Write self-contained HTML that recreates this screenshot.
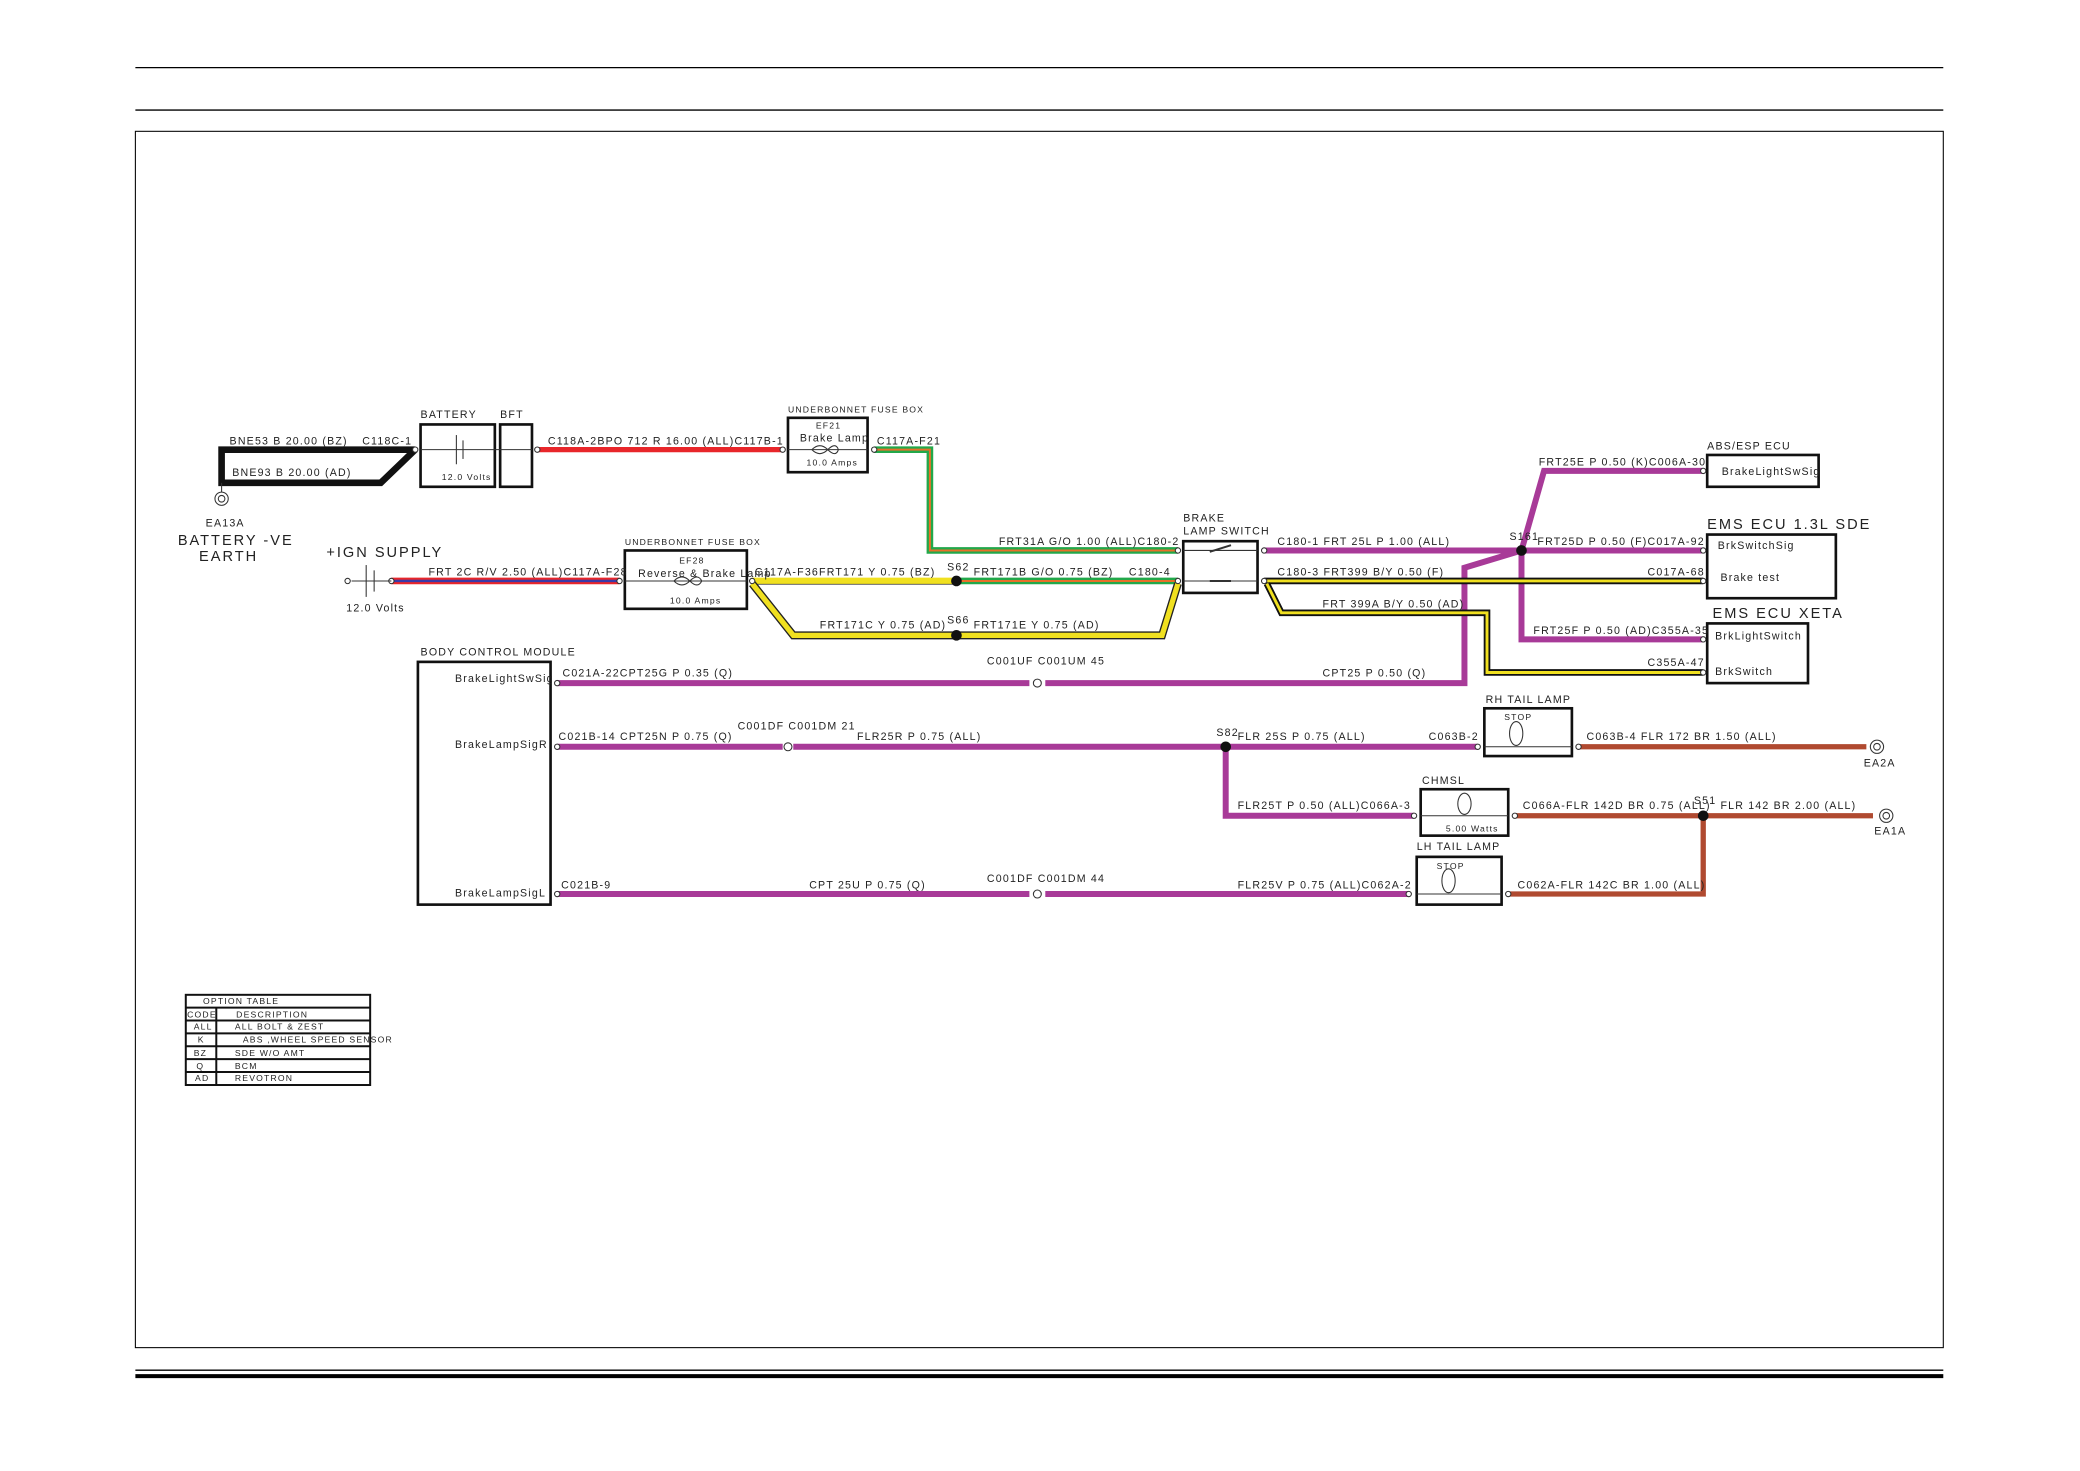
<!DOCTYPE html>
<html><head><meta charset="utf-8"><style>
html,body{margin:0;padding:0;background:#fff}
svg{display:block}
text{font-family:"Liberation Sans",sans-serif;font-size:8px;letter-spacing:0.9px;fill:#222}
.b{font-size:11px;letter-spacing:1.5px}
.s{font-size:6.5px}
</style></head><body>
<svg width="2080" height="1471" viewBox="0 0 1568 1109" xmlns="http://www.w3.org/2000/svg">
<rect width="1570" height="1110" fill="#fff"/>
<g stroke="#000" fill="none">
<line x1="102" y1="51" x2="1465" y2="51" stroke-width="1"/>
<line x1="102" y1="83" x2="1465" y2="83" stroke-width="1"/>
<rect x="102" y="99" width="1363" height="917" stroke-width="0.8"/>
<line x1="102" y1="1033" x2="1465" y2="1033" stroke-width="1"/>
<line x1="102" y1="1037.5" x2="1465" y2="1037.5" stroke-width="3"/>
</g>

<g fill="none" stroke-linejoin="miter">
<path d="M313 339 H167 V364 H287 L313 339" stroke="#111" stroke-width="5"/>
<line x1="405" y1="339" x2="590" y2="339" stroke="#e8262a" stroke-width="4"/>
<path d="M659 339 H701 V415 H888" stroke="#22a84a" stroke-width="5"/>
<path d="M659 339 H701 V415 H888" stroke="#e8702a" stroke-width="1.5"/>
<line x1="295" y1="438" x2="467" y2="438" stroke="#e8262a" stroke-width="5"/>
<line x1="295" y1="438" x2="467" y2="438" stroke="#3a3aa8" stroke-width="1.8"/>
<path d="M567 438 H721" stroke="#f0e020" stroke-width="5"/>
<path d="M567 438 H721" stroke="#333" stroke-width="0.6" transform="translate(0,2.5)"/>
<path d="M721 438 H888" stroke="#22a84a" stroke-width="5"/>
<path d="M721 438 H888" stroke="#e8702a" stroke-width="1.5"/>
<path d="M567 440 L598 479 H876 L888 440" stroke="#222" stroke-width="6"/>
<path d="M567 440 L598 479 H876 L888 440" stroke="#f0e020" stroke-width="4"/>
<g stroke="#a83a98" stroke-width="4.5">
<path d="M953 415 H1284"/>
<path d="M1147 415 L1164 355 H1284"/>
<path d="M1147 415 V482 H1284"/>
<path d="M1147 415 L1104 428 V515 H788"/>
<path d="M776 515 H420"/>
<path d="M420 563 H590 M598 563 H1114"/>
<path d="M924 563 V615 H1066"/>
<path d="M420 674 H776 M788 674 H1062"/>
</g>
<path d="M953 438 H1284" stroke="#111" stroke-width="5"/>
<path d="M953 438 H1284" stroke="#f0e020" stroke-width="2.2"/>
<path d="M955 440 L966 462 H1121 V507 H1284" stroke="#111" stroke-width="5"/>
<path d="M955 440 L966 462 H1121 V507 H1284" stroke="#f0e020" stroke-width="2.2"/>
<g stroke="#b04a30" stroke-width="4">
<path d="M1190 563 H1407"/>
<path d="M1142 615 H1412"/>
<path d="M1284 615 V674 H1137"/>
</g>
</g>
<g fill="#111">
<circle cx="721" cy="438" r="4"/><circle cx="721" cy="479" r="4"/>
<circle cx="1147" cy="415" r="4"/><circle cx="924" cy="563" r="4"/><circle cx="1284" cy="615" r="4"/>
</g>
<g fill="#fff" stroke="#333" stroke-width="0.8">
<circle cx="313" cy="339" r="2"/><circle cx="405" cy="339" r="2"/><circle cx="590" cy="339" r="2"/><circle cx="659" cy="339" r="2"/>
<circle cx="888" cy="415" r="2"/><circle cx="888" cy="438" r="2"/><circle cx="953" cy="415" r="2"/><circle cx="953" cy="438" r="2"/>
<circle cx="467" cy="438" r="2"/><circle cx="567" cy="438" r="2"/><circle cx="295" cy="438" r="2"/>
<circle cx="1284" cy="355" r="2"/><circle cx="1284" cy="415" r="2"/><circle cx="1284" cy="438" r="2"/><circle cx="1284" cy="482" r="2"/><circle cx="1284" cy="507" r="2"/>
<circle cx="420" cy="515" r="2"/><circle cx="420" cy="563" r="2"/><circle cx="420" cy="674" r="2"/>
<circle cx="782" cy="515" r="3"/><circle cx="594" cy="563" r="3"/><circle cx="782" cy="674" r="3"/>
<circle cx="1114" cy="563" r="2"/><circle cx="1190" cy="563" r="2"/><circle cx="1066" cy="615" r="2"/><circle cx="1142" cy="615" r="2"/>
<circle cx="1062" cy="674" r="2"/><circle cx="1137" cy="674" r="2"/>
<circle cx="1415" cy="563" r="5"/><circle cx="1415" cy="563" r="2.5"/>
<circle cx="1422" cy="615" r="5"/><circle cx="1422" cy="615" r="2.5"/>
<circle cx="167" cy="376" r="5"/><circle cx="167" cy="376" r="2.5"/>
<circle cx="262" cy="438" r="2"/>
</g>
<g fill="#fff" stroke="#111" stroke-width="2">
<rect x="317" y="320" width="56" height="47"/><rect x="377" y="320" width="24" height="47"/>
<rect x="594" y="315" width="60" height="41"/>
<rect x="471" y="415" width="92" height="44"/>
<rect x="892" y="408" width="56" height="39"/>
<rect x="1287" y="343" width="84" height="24"/>
<rect x="1287" y="403" width="97" height="48"/>
<rect x="1287" y="470" width="76" height="45"/>
<rect x="315" y="499" width="100" height="183"/>
<rect x="1119" y="534" width="66" height="36"/>
<rect x="1071" y="595" width="66" height="35"/>
<rect x="1068" y="646" width="64" height="36"/>
</g>
<g stroke="#333" stroke-width="0.8" fill="none">
<line x1="317" y1="339" x2="401" y2="339"/><line x1="344" y1="328" x2="344" y2="350"/><line x1="349" y1="332" x2="349" y2="346"/>
<line x1="594" y1="339" x2="654" y2="339"/><path d="M612 339 q6 -6 12 0 q6 6 8 0 q-2 -6 -8 0 q-6 6 -12 0"/>
<line x1="471" y1="438" x2="563" y2="438"/><path d="M508 438 q6 -6 12 0 q6 6 9 0 q-3 -6 -9 0 q-6 6 -12 0"/>
<line x1="892" y1="415" x2="948" y2="415"/><line x1="892" y1="438" x2="948" y2="438"/>
<line x1="912" y1="416" x2="928" y2="411" stroke-width="1.5"/><line x1="912" y1="438" x2="928" y2="438" stroke-width="1.5"/>
<line x1="1119" y1="563" x2="1185" y2="563"/><ellipse cx="1143" cy="553" rx="5" ry="9"/>
<line x1="1071" y1="615" x2="1137" y2="615"/><ellipse cx="1104" cy="606" rx="5" ry="8"/>
<line x1="1068" y1="674" x2="1132" y2="674"/><ellipse cx="1092" cy="664" rx="5" ry="9"/>
<line x1="265" y1="438" x2="295" y2="438"/><line x1="276" y1="426" x2="276" y2="450"/><line x1="282" y1="430" x2="282" y2="446"/>
<line x1="167" y1="364" x2="167" y2="371"/>
</g>
<g stroke="#111" stroke-width="1.5" fill="none">
<rect x="140" y="750" width="139" height="68"/>
<line x1="140" y1="759.7" x2="279" y2="759.7"/><line x1="140" y1="769.4" x2="279" y2="769.4"/><line x1="140" y1="779.1" x2="279" y2="779.1"/>
<line x1="140" y1="788.8" x2="279" y2="788.8"/><line x1="140" y1="798.5" x2="279" y2="798.5"/><line x1="140" y1="808.2" x2="279" y2="808.2"/>
<line x1="163" y1="759.7" x2="163" y2="818"/>
</g>
<g class="s">
<text x="153" y="757" class="s">OPTION TABLE</text>
<text x="141" y="767" class="s">CODE</text><text x="178" y="767" class="s">DESCRIPTION</text>
<text x="146" y="776" class="s">ALL</text><text x="177" y="776" class="s">ALL BOLT &amp; ZEST</text>
<text x="149" y="786" class="s">K</text><text x="183" y="786" class="s">ABS ,WHEEL SPEED SENSOR</text>
<text x="146" y="796" class="s">BZ</text><text x="177" y="796" class="s">SDE W/O AMT</text>
<text x="148" y="806" class="s">Q</text><text x="177" y="806" class="s">BCM</text>
<text x="147" y="815" class="s">AD</text><text x="177" y="815" class="s">REVOTRON</text>
</g>
<text x="173" y="335">BNE53 B 20.00 (BZ)</text><text x="273" y="335">C118C-1</text>
<text x="175" y="359">BNE93 B 20.00 (AD)</text>
<text x="155" y="397">EA13A</text>
<text x="134" y="411" class="b">BATTERY -VE</text><text x="150" y="423" class="b">EARTH</text>
<text x="317" y="315">BATTERY</text><text x="377" y="315">BFT</text><text x="333" y="362" class="s">12.0 Volts</text>
<text x="413" y="335">C118A-2BPO 712 R 16.00 (ALL)C117B-1</text>
<text x="594" y="311" class="s">UNDERBONNET FUSE BOX</text>
<text x="615" y="323" class="s">EF21</text><text x="603" y="333">Brake Lamp</text><text x="608" y="351" class="s">10.0 Amps</text>
<text x="661" y="335">C117A-F21</text>
<text x="246" y="420" class="b">+IGN SUPPLY</text><text x="261" y="461">12.0 Volts</text>
<text x="323" y="434">FRT 2C R/V 2.50 (ALL)C117A-F28</text>
<text x="471" y="411" class="s">UNDERBONNET FUSE BOX</text>
<text x="512" y="425" class="s">EF28</text><text x="481" y="435">Reverse &amp; Brake Lamp</text><text x="505" y="455" class="s">10.0 Amps</text>
<text x="569" y="434">C117A-F36FRT171 Y 0.75 (BZ)</text>
<text x="714" y="430">S62</text><text x="734" y="434">FRT171B G/O 0.75 (BZ)</text><text x="851" y="434">C180-4</text>
<text x="618" y="474">FRT171C Y 0.75 (AD)</text><text x="714" y="470">S66</text><text x="734" y="474">FRT171E Y 0.75 (AD)</text>
<text x="753" y="411">FRT31A G/O 1.00 (ALL)C180-2</text>
<text x="892" y="393">BRAKE</text><text x="892" y="403">LAMP SWITCH</text>
<text x="963" y="411">C180-1 FRT 25L P 1.00 (ALL)</text>
<text x="1138" y="407">S161</text>
<text x="963" y="434">C180-3 FRT399 B/Y 0.50 (F)</text>
<text x="997" y="458">FRT 399A B/Y 0.50 (AD)</text>
<text x="1160" y="351">FRT25E P 0.50 (K)C006A-30</text>
<text x="1287" y="339">ABS/ESP ECU</text><text x="1298" y="358">BrakeLightSwSig</text>
<text x="1159" y="411">FRT25D P 0.50 (F)C017A-92</text>
<text x="1287" y="399" class="b">EMS ECU 1.3L SDE</text><text x="1295" y="414">BrkSwitchSig</text><text x="1297" y="438">Brake test</text>
<text x="1242" y="434">C017A-68</text>
<text x="1291" y="466" class="b">EMS ECU XETA</text>
<text x="1156" y="478">FRT25F P 0.50 (AD)C355A-35</text><text x="1293" y="482">BrkLightSwitch</text>
<text x="1242" y="502">C355A-47</text><text x="1293" y="509">BrkSwitch</text>
<text x="317" y="494">BODY CONTROL MODULE</text>
<text x="343" y="514">BrakeLightSwSig</text><text x="343" y="564">BrakeLampSigR</text><text x="343" y="676">BrakeLampSigL</text>
<text x="424" y="510">C021A-22CPT25G P 0.35 (Q)</text>
<text x="744" y="501">C001UF C001UM 45</text>
<text x="997" y="510">CPT25 P 0.50 (Q)</text>
<text x="421" y="558">C021B-14 CPT25N P 0.75 (Q)</text>
<text x="556" y="550">C001DF C001DM 21</text>
<text x="646" y="558">FLR25R P 0.75 (ALL)</text>
<text x="917" y="555">S82</text><text x="933" y="558">FLR 25S P 0.75 (ALL)</text><text x="1077" y="558">C063B-2</text>
<text x="1120" y="530">RH TAIL LAMP</text><text x="1134" y="543" class="s">STOP</text>
<text x="1196" y="558">C063B-4 FLR 172 BR 1.50 (ALL)</text><text x="1405" y="578">EA2A</text>
<text x="1072" y="591">CHMSL</text><text x="1090" y="627" class="s">5.00 Watts</text>
<text x="933" y="610">FLR25T P 0.50 (ALL)C066A-3</text>
<text x="1148" y="610">C066A-FLR 142D BR 0.75 (ALL)</text>
<text x="1277" y="606">S51</text><text x="1297" y="610">FLR 142 BR 2.00 (ALL)</text><text x="1413" y="629">EA1A</text>
<text x="1068" y="641">LH TAIL LAMP</text><text x="1083" y="655" class="s">STOP</text>
<text x="423" y="670">C021B-9</text><text x="610" y="670">CPT 25U P 0.75 (Q)</text>
<text x="744" y="665">C001DF C001DM 44</text>
<text x="933" y="670">FLR25V P 0.75 (ALL)C062A-2</text>
<text x="1144" y="670">C062A-FLR 142C BR 1.00 (ALL)</text>
</svg>
</body></html>
